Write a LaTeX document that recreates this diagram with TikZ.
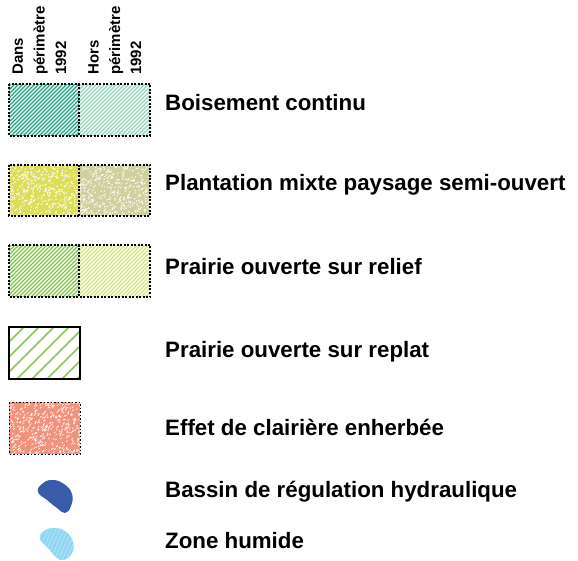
\documentclass[tikz,border=0pt]{standalone}
\usepackage{fontspec}
\setmainfont{Liberation Sans}
\definecolor{teal1}{HTML}{18AA82}
\definecolor{teal2}{HTML}{92D4BA}
\definecolor{yel1}{HTML}{DCDE5A}
\definecolor{yel2}{HTML}{CFD09E}
\definecolor{grn1}{HTML}{82C44C}
\definecolor{grn2}{HTML}{D6E77E}
\definecolor{grn3}{HTML}{8CC850}
\definecolor{salm}{HTML}{F4917A}
\definecolor{blued}{HTML}{3A5BAA}
\definecolor{bluel}{HTML}{8ED6F3}
\newcommand{\myhatch}[7]{%
\begin{scope}
\clip (#1,#2) rectangle (#3,#4);
\fill[#5] (#1,#2) rectangle (#3,#4);
\pgfmathsetmacro\hh{#4-#2}
\pgfmathsetmacro\st{#1-\hh}
\pgfmathsetmacro\nx{\st+#7}
\foreach \k in {\st,\nx,...,#3} \draw[#6] (\k,#4) -- ++(\hh,-\hh);
\end{scope}}
\newcommand{\mydots}[6]{%
\begin{scope}
\clip (#1,#2) rectangle (#3,#4);
\fill[#5] (#1,#2) rectangle (#3,#4);
\pgfmathsetseed{#6}
\foreach \i in {1,...,420} {
  \pgfmathsetmacro\px{#1+rnd*(#3-#1)}
  \pgfmathsetmacro\py{#2+rnd*(#4-#2)}
  \fill[white, opacity=0.85] (\px,\py) -- ++(1.3,-1.3) -- ++(0.6,0.6) -- ++(-1.3,1.3) -- cycle;
}
\end{scope}}
\tikzset{
  lbl/.style={anchor=base west, inner sep=0pt, font=\bfseries\fontsize{22.3}{24}\selectfont},
  vlbl/.style={rotate=90, anchor=base west, inner sep=0pt, font=\bfseries\fontsize{15}{16}\selectfont},
  dbord/.style={draw=black, line width=1.1pt, dash pattern=on 2pt off 1.5pt},
  wline/.style={white, line width=1.1pt},
}
\begin{document}
\begin{tikzpicture}[x=1pt,y=-1pt]
\useasboundingbox (0,0) rectangle (578,561);
% vertical headers
\node[vlbl] (h1a) at (23,75) {Dans};
\node[vlbl] (h1b) at (44.5,75) {périmètre};
\node[vlbl] (h1c) at (66,75) {1992};
\node[vlbl] (h2a) at (98.5,75) {Hors};
\node[vlbl] (h2b) at (120,75) {périmètre};
\node[vlbl] (h2c) at (141,75) {1992};
% box 1
\myhatch{9}{84}{79}{136}{teal1}{wline}{4}
\myhatch{79}{84}{150}{136}{teal2}{wline}{4}
\draw[dbord] (9,84) rectangle (150,136);
\draw[dbord] (79,84) -- (79,136);
% box 2
\mydots{9}{165}{79}{216}{yel1}{11}
\mydots{79}{165}{150}{216}{yel2}{23}
\draw[dbord] (9,165) rectangle (150,216);
\draw[dbord] (79,165) -- (79,216);
% box 3
\myhatch{9}{245}{79}{297}{grn1}{wline}{4}
\myhatch{79}{245}{150}{297}{grn2}{wline}{4}
\draw[dbord] (9,245) rectangle (150,297);
\draw[dbord] (79,245) -- (79,297);
% box 4
\myhatch{9}{327}{80}{379}{white}{grn3, line width=1.5pt}{15}
\draw[black, line width=1.3pt] (9,327) rectangle (80,379);
% box 5
\mydots{9}{402}{80}{454}{salm}{37}
\draw[black, line width=1pt, dash pattern=on 1.5pt off 2pt] (9,402) rectangle (80,454);
% blobs
\fill[blued] plot[smooth cycle, tension=0.8] coordinates {(42,484) (52,480) (64,484) (72,494) (71,506) (65,513) (57,508) (47,500) (38,492)};
\begin{scope}
\clip plot[smooth cycle, tension=0.8] coordinates {(44,531) (55,528) (66,532) (73,542) (72,553) (64,560) (56,557) (48,548) (40,539)};
\fill[bluel] (30,520) rectangle (80,565);
\foreach \k in {20,24,...,80} \draw[white, opacity=0.35, line width=0.8pt] (\k,565) -- ++(20,-45);
\end{scope}
% labels
\node[lbl] (l1) at (165,111) {Boisement continu};
\node[lbl] (l2) at (165,191) {Plantation mixte paysage semi-ouvert};
\node[lbl] (l3) at (165,275) {Prairie ouverte sur relief};
\node[lbl] (l4) at (165,357) {Prairie ouverte sur replat};
\node[lbl] (l5) at (165,435) {Effet de clairière enherbée};
\node[lbl] (l6) at (165,497) {Bassin de régulation hydraulique};
\node[lbl] (l7) at (165,548) {Zone humide};
\end{tikzpicture}
\end{document}
